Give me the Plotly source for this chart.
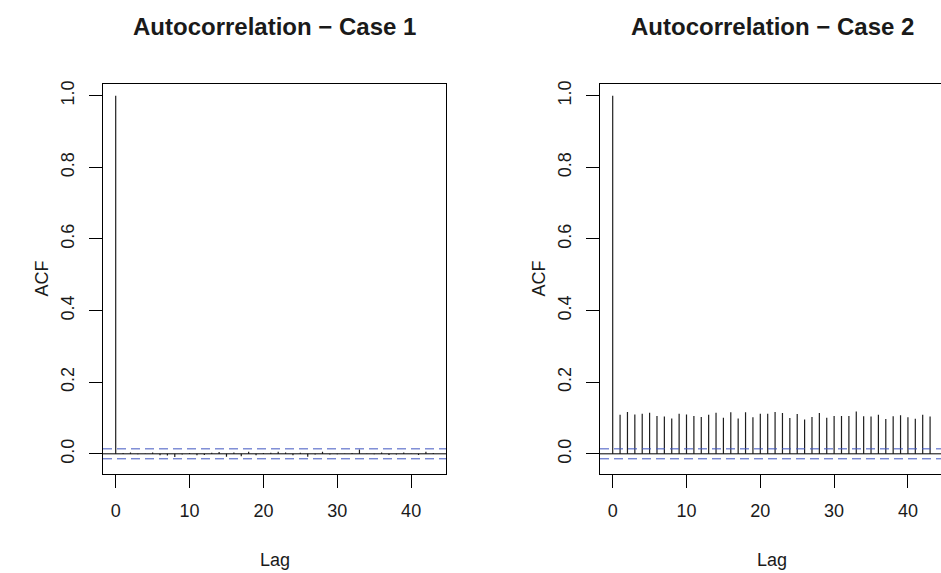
import plotly.graph_objects as go

# ---- data ----
lags = list(range(0, 44))
acf_case1 = [1.0, 0.002, 0.004, -0.001, 0.001, 0.004, -0.004, -0.005, -0.009, -0.002,
             0.002, -0.004, -0.003, 0.003, 0.005, -0.008, 0.004, -0.007, 0.006, -0.004,
             0.002, 0.003, 0.006, 0.004, -0.004, 0.003, -0.008, -0.002, 0.006, -0.002,
             -0.001, 0.001, 0.002, 0.012, 0.001, -0.001, 0.004, -0.003, -0.002, 0.004,
             0.001, -0.003, 0.006, 0.002]
acf_case2 = [1.0, 0.109, 0.117, 0.110, 0.112, 0.115, 0.106, 0.104, 0.099, 0.112,
             0.110, 0.106, 0.103, 0.109, 0.115, 0.101, 0.116, 0.099, 0.116, 0.102,
             0.112, 0.112, 0.117, 0.114, 0.100, 0.111, 0.096, 0.103, 0.114, 0.101,
             0.106, 0.106, 0.106, 0.118, 0.105, 0.104, 0.109, 0.097, 0.105, 0.108,
             0.102, 0.098, 0.109, 0.104]
conf_limit = 0.0139
titles = ["Autocorrelation \u2212 Case 1", "Autocorrelation \u2212 Case 2"]
x_title = "Lag"
y_title = "ACF"
x_ticks = [0, 10, 20, 30, 40]
y_ticks = [0.0, 0.2, 0.4, 0.6, 0.8, 1.0]

FONT = "Liberation Sans, Arial, Helvetica, sans-serif"
W, H = 941, 573

fig = go.Figure()


def spikes(vals):
    xs, ys = [], []
    for k, v in zip(lags, vals):
        xs += [k, k, None]
        ys += [0, v, None]
    return xs, ys


for i, vals in enumerate([acf_case1, acf_case2]):
    xs, ys = spikes(vals)
    sfx = "" if i == 0 else "2"
    fig.add_trace(go.Scatter(x=xs, y=ys, mode="lines",
                             line=dict(color="#1e1e1e", width=1.2),
                             xaxis="x" + sfx, yaxis="y" + sfx,
                             showlegend=False, hoverinfo="skip"))
    xr = "x" + sfx + " domain"
    yr = "y" + sfx
    fig.add_shape(type="line", xref=xr, yref=yr, x0=0, x1=1, y0=0, y1=0,
                  line=dict(color="black", width=1))
    for c in (conf_limit, -conf_limit):
        fig.add_shape(type="line", xref=xr, yref=yr, x0=0, x1=1, y0=c, y1=c,
                      line=dict(color="#3f55c0", width=1, dash="9px,5px"))

# geometry (pixels)
box_top, box_bot = 81, 473
left_box = (103, 446)
right_box = (600, 941)
yr_range = [-0.055, 1.034]

common_x = dict(tickmode="array", tickvals=x_ticks, ticks="outside", ticklen=13,
                tickcolor="black", tickwidth=1, showgrid=False, zeroline=False,
                showline=True, linecolor="black", linewidth=1, mirror=True,
                tickfont=dict(family=FONT, size=18, color="#1a1a1a"),
                ticklabelstandoff=8)
common_y = dict(tickmode="array", tickvals=y_ticks, tickformat=".1f", ticks="outside",
                ticklen=13, tickcolor="black", tickwidth=1, showgrid=False,
                zeroline=False, showline=True, linecolor="black", linewidth=1,
                tickangle=-90, range=yr_range,
                tickfont=dict(family=FONT, size=18, color="#1a1a1a"),
                ticklabelstandoff=8,
                domain=[1 - box_bot / H, 1 - box_top / H])

fig.update_layout(
    width=W, height=H, autosize=False,
    margin=dict(l=0, r=0, t=0, b=0),
    paper_bgcolor="white", plot_bgcolor="white",
    xaxis=dict(common_x, domain=[left_box[0] / W, left_box[1] / W], range=[-1.72, 44.72]),
    yaxis=dict(common_y, anchor="x", mirror=True),
    xaxis2=dict(common_x, domain=[right_box[0] / W, 1.0], range=[-1.72, 44.48], anchor="y2"),
    yaxis2=dict(common_y, anchor="x2", mirror=False),
)

ann = []
for i, (x0, x1) in enumerate([(103, 446), (600, 944)]):
    cx = (x0 + x1) / 2
    ann.append(dict(text="<b>" + titles[i] + "</b>", x=cx / W, y=1 - 24 / H,
                    xref="paper", yref="paper", showarrow=False,
                    xanchor="center", yanchor="middle",
                    font=dict(family=FONT, size=24, color="#1a1a1a")))
    ann.append(dict(text=x_title, x=cx / W, y=1 - 560 / H, xref="paper", yref="paper",
                    showarrow=False, xanchor="center", yanchor="middle",
                    font=dict(family=FONT, size=18, color="#1a1a1a")))
    ann.append(dict(text=y_title, x=(x0 - 61) / W, y=1 - 277 / H, xref="paper",
                    yref="paper", showarrow=False, xanchor="center", yanchor="middle",
                    textangle=-90, font=dict(family=FONT, size=18, color="#1a1a1a")))
fig.update_layout(annotations=ann)

fig.write_html("out.html", config={"displayModeBar": False},
               post_script="document.body.style.margin='0';")
